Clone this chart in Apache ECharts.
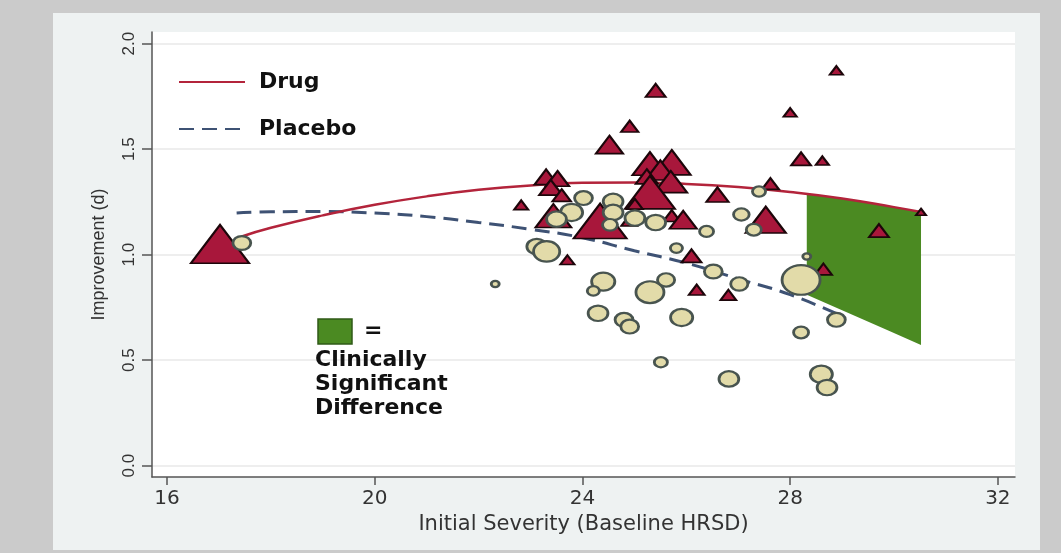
<!DOCTYPE html>
<html>
<head>
<meta charset="utf-8">
<script src="https://cdn.jsdelivr.net/npm/echarts@6/dist/echarts.min.js"></script>
<style>
  html, body { margin: 0; padding: 0; background: #cbcbcb; }
  #main { width: 1061px; height: 553px; }
</style>
</head>
<body>
<div id="main"></div>
<script>
// tick values
var xTicks = [16, 20, 24, 28, 32];
var yTicks = [0, 0.5, 1, 1.5, 2];

// drug trials (triangles): severity, improvement, relative weight
var drugX = [17.02, 22.82, 23.30, 23.52, 23.39, 23.60, 23.44, 23.71, 24.34, 24.52, 24.91, 25.41,
             25.30, 25.72, 25.50, 25.24, 25.70, 25.30, 25.01, 24.90, 25.72, 25.94, 26.60, 26.10,
             26.20, 26.81, 27.53, 27.62, 28.00, 28.21, 28.62, 28.89, 28.64, 29.71, 30.52];
var drugY = [1.050, 1.235, 1.368, 1.360, 1.318, 1.281, 1.184, 0.975, 1.159, 1.521, 1.608, 1.778,
             1.431, 1.437, 1.400, 1.370, 1.345, 1.295, 1.240, 1.160, 1.184, 1.165, 1.284, 0.994,
             0.833, 0.809, 1.165, 1.336, 1.674, 1.454, 1.445, 1.873, 0.931, 1.114, 1.202];
var drugW = [69, 4, 11, 11, 11, 7, 26, 4, 57, 15, 6, 8,
             25, 29, 18, 10, 22, 51, 5, 5, 6, 15, 10, 8,
             5, 5, 33, 6, 3.5, 8, 3.5, 3.5, 6, 8, 2];

// placebo arms (circles)
var placeboX = [17.44, 22.32, 23.12, 23.31, 24.02, 23.79, 23.50, 24.59, 24.59, 24.53, 25.01, 25.41,
                26.39, 25.81, 24.40, 24.21, 25.30, 25.61, 26.52, 27.02, 24.30, 24.80, 24.91, 25.91,
                25.51, 26.82, 27.40, 27.30, 27.06, 28.32, 28.21, 28.89, 28.21, 28.60, 28.71];
var placeboY = [1.055, 0.861, 1.038, 1.015, 1.268, 1.200, 1.168, 1.252, 1.200, 1.141, 1.173, 1.152,
                1.110, 1.031, 0.872, 0.828, 0.822, 0.880, 0.920, 0.861, 0.722, 0.691, 0.659, 0.702,
                0.490, 0.411, 1.299, 1.118, 1.190, 0.991, 0.880, 0.691, 0.631, 0.433, 0.370];
var placeboW = [6.5, 1.3, 8, 14, 6.5, 10, 8, 8, 8, 4.6, 8, 8,
                4, 3, 11, 3, 16, 6, 6.5, 6, 8, 6.5, 6.5, 10,
                3.5, 8, 3.5, 4.6, 5, 1.3, 29.5, 6.5, 4.6, 10, 8];

// fitted curves
var drugFitX = [17.44, 18, 19, 20, 21, 22, 23, 24, 25, 26, 27, 28, 29, 30, 30.52];
var drugFitY = [1.086, 1.127, 1.186, 1.236, 1.276, 1.307, 1.328, 1.340, 1.342, 1.335, 1.320, 1.297, 1.266, 1.225, 1.202];
var placeboFitX = [17.34, 18, 19, 20, 21, 22, 23, 24, 25, 26, 27, 28, 29.02];
var placeboFitY = [1.197, 1.203, 1.204, 1.197, 1.180, 1.152, 1.120, 1.080, 1.018, 0.960, 0.885, 0.810, 0.706];

// clinically significant difference band
var bandX = [28.32, 29.0, 29.9, 30.52];
var bandTop = [1.290, 1.266, 1.231, 1.202];
var bandBottom = [0.810, 0.736, 0.639, 0.572];

function zip(xs, ys, ws) {
  return xs.map(function (x, i) { return ws ? [x, ys[i], ws[i]] : [x, ys[i]]; });
}

var chart = echarts.init(document.getElementById('main'));

chart.setOption({
  animation: false,
  backgroundColor: '#cbcbcb',
  grid: {
    left: 152, right: 46, top: 32, bottom: 76,
    show: true, backgroundColor: '#ffffff', borderWidth: 0
  },
  legend: {
    data: ['Drug', 'Placebo'],
    orient: 'vertical',
    left: 178, top: 71, padding: 0,
    itemWidth: 66, itemHeight: 20, itemGap: 25,
    selectedMode: false,
    itemStyle: { opacity: 0 },
    textStyle: { fontFamily: 'DejaVu Sans', fontWeight: 'bold', fontSize: 22, color: '#111', padding: [0, 0, 0, 9] }
  },
  xAxis: {
    type: 'value', min: 15.71, max: 32.33,
    name: 'Initial Severity (Baseline HRSD)',
    nameLocation: 'middle', nameGap: 30,
    nameTextStyle: { fontFamily: 'DejaVu Sans', fontSize: 21, color: '#333' },
    axisLine: { show: true, onZero: false, lineStyle: { color: '#555', width: 1.5 } },
    axisTick: { show: true, customValues: xTicks, length: 8, lineStyle: { color: '#555', width: 1.5 } },
    axisLabel: { customValues: xTicks, fontFamily: 'DejaVu Sans', fontSize: 20, color: '#333', margin: 12 },
    splitLine: { show: false }
  },
  yAxis: {
    type: 'value', min: -0.054, max: 2.055,
    name: 'Improvement (d)',
    nameLocation: 'middle', nameGap: 44, nameRotate: 90,
    nameTextStyle: { fontFamily: 'Liberation Sans', fontSize: 18, color: '#333' },
    axisLine: { show: true, onZero: false, lineStyle: { color: '#555', width: 1.5 } },
    axisTick: { show: true, customValues: yTicks, length: 10, lineStyle: { color: '#555', width: 1.5 } },
    axisLabel: {
      customValues: yTicks, rotate: 90, margin: 14,
      fontFamily: 'Liberation Sans', fontSize: 17, color: '#333',
      formatter: function (v) { return v.toFixed(1); }
    },
    splitLine: { show: true, lineStyle: { color: '#e8e8e8', width: 1.5 } }
  },
  graphic: [
    { type: 'rect', z: -10, shape: { x: 53, y: 13, width: 987, height: 537 }, style: { fill: '#eef2f2' } },
    { type: 'rect', z: 100, shape: { x: 318, y: 319, width: 34, height: 25 }, style: { fill: '#4b8a22', stroke: '#2f5a17', lineWidth: 1.5 } },
    { type: 'text', z: 100, x: 364, y: 320, style: { text: '=', font: 'bold 22px "DejaVu Sans"', fill: '#111' } },
    { type: 'text', z: 100, x: 315, y: 348, style: { text: 'Clinically\nSignificant\nDifference', font: 'bold 22px "DejaVu Sans"', lineHeight: 24, fill: '#111' } }
  ],
  series: [
    {
      name: 'Clinically Significant Difference',
      type: 'custom',
      z: 1,
      data: zip(bandX, bandTop, bandBottom),
      renderItem: function (params, api) {
        if (params.dataIndex !== 0) return;
        var pts = [];
        for (var i = 0; i < bandX.length; i++) pts.push(api.coord([bandX[i], bandTop[i]]));
        for (var j = bandX.length - 1; j >= 0; j--) pts.push(api.coord([bandX[j], bandBottom[j]]));
        return { type: 'polygon', shape: { points: pts }, style: { fill: '#4b8a22' } };
      }
    },
    {
      name: 'Placebo',
      type: 'line',
      z: 2,
      smooth: true,
      symbol: 'none',
      data: zip(placeboFitX, placeboFitY),
      lineStyle: { color: '#3e5274', width: 3, type: [15, 8] },
      itemStyle: { color: '#3e5274' }
    },
    {
      name: 'Drug',
      type: 'line',
      z: 2,
      smooth: true,
      symbol: 'none',
      data: zip(drugFitX, drugFitY),
      lineStyle: { color: '#b3243b', width: 2.5 },
      itemStyle: { color: '#b3243b' }
    },
    {
      name: 'Drug trials',
      type: 'scatter',
      z: 3,
      symbol: 'triangle',
      symbolSize: function (v) { var w = 7 * Math.sqrt(v[2]); return [w, w * 0.66]; },
      data: zip(drugX, drugY, drugW),
      itemStyle: { color: '#a8173b', borderColor: '#1c060a', borderWidth: 2, opacity: 1 }
    },
    {
      name: 'Placebo arms',
      type: 'scatter',
      z: 4,
      symbol: 'circle',
      symbolSize: function (v) { var w = 7 * Math.sqrt(v[2]); return [w, w * 0.78]; },
      data: zip(placeboX, placeboY, placeboW),
      itemStyle: { color: '#e2dba9', borderColor: '#48544f', borderWidth: 2.5, opacity: 1 }
    }
  ]
});
</script>
</body>
</html>
